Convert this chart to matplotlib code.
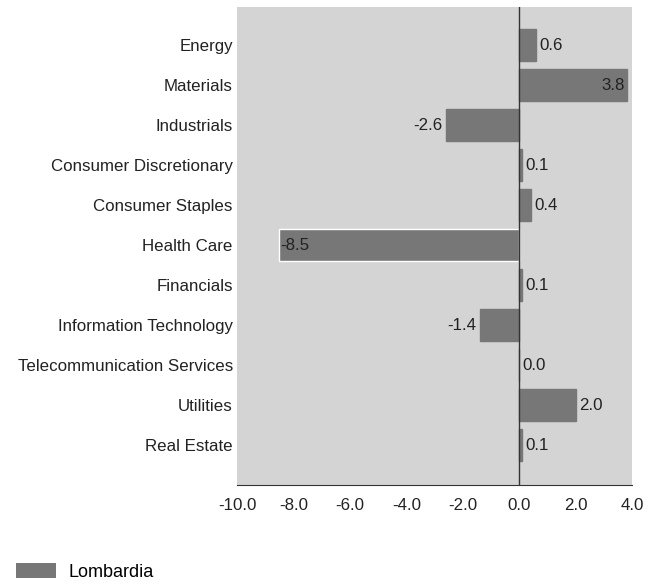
import matplotlib
matplotlib.use("Agg")
import matplotlib.pyplot as plt
from matplotlib.patches import Patch

categories = ["Energy", "Materials", "Industrials", "Consumer Discretionary",
              "Consumer Staples", "Health Care", "Financials",
              "Information Technology", "Telecommunication Services",
              "Utilities", "Real Estate"]
values = [0.6, 3.8, -2.6, 0.1, 0.4, -8.5, 0.1, -1.4, 0.0, 2.0, 0.1]
xticks = [-10.0, -8.0, -6.0, -4.0, -2.0, 0.0, 2.0, 4.0]
series_name = "Lombardia"

plt.rcParams['font.family'] = ['Liberation Sans', 'DejaVu Sans']

fig = plt.figure(figsize=(6.6, 5.84), dpi=100)
ax = fig.add_axes([0.359, 0.1695, 0.599, 0.8185])
ax.set_facecolor('#d4d4d4')

bar_color = '#777777'
ys = list(range(len(categories)))
edges = ['white' if c == "Health Care" else bar_color for c in categories]
ax.barh(ys, values, height=0.8, color=bar_color, edgecolor=edges, linewidth=1.0, zorder=2)
ax.set_ylim(len(categories) - 1 + 1.0, -0.95)
ax.set_xlim(-10, 4)
ax.axvline(0, color='#333333', linewidth=1.0, zorder=3)

fs = 12.2
for y, v in zip(ys, values):
    if v >= 3.0:
        ax.text(v - 0.05, y, f"{v:.1f}", ha='right', va='center', fontsize=fs, color='#222222', zorder=4)
    elif v <= -8.0:
        ax.text(v + 0.05, y, f"{v:.1f}", ha='left', va='center', fontsize=fs, color='#222222', zorder=4)
    elif v >= 0:
        ax.text(v + 0.12, y, f"{v:.1f}", ha='left', va='center', fontsize=fs, color='#222222', zorder=4)
    else:
        ax.text(v - 0.12, y, f"{v:.1f}", ha='right', va='center', fontsize=fs, color='#222222', zorder=4)

ax.set_yticks(ys)
ax.set_yticklabels(categories, fontsize=fs, color='#222222')
ax.set_xticks(xticks)
ax.set_xticklabels([f"{t:.1f}" for t in xticks], fontsize=fs, color='#222222')
ax.tick_params(axis='y', length=0, pad=3)
ax.tick_params(axis='x', length=0, pad=9)
for s in ['top', 'right', 'left']:
    ax.spines[s].set_visible(False)
ax.spines['bottom'].set_color('#333333')

fig.legend(handles=[Patch(facecolor=bar_color, label=series_name)],
           loc='lower left', bbox_to_anchor=(0.0, -0.022), frameon=False,
           fontsize=13, handlelength=2.2, handleheight=0.9, handletextpad=0.7)

fig.savefig("out.png", dpi=100, facecolor='white')
